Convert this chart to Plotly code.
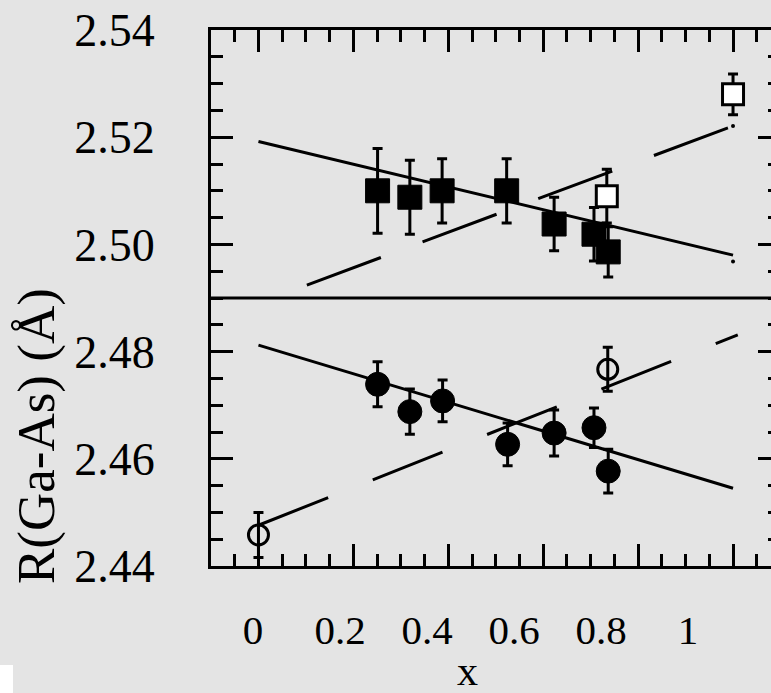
import plotly.graph_objects as go

# ---------------- data ----------------
# upper panel: filled squares
sq_x = [0.251, 0.319, 0.387, 0.523, 0.623, 0.707, 0.737]
sq_y = [2.5100, 2.5088, 2.5100, 2.5100, 2.5038, 2.5019, 2.4986]
sq_err = [0.0079, 0.0069, 0.0060, 0.0060, 0.0050, 0.0050, 0.0047]
# upper panel: open squares
osq_x = [0.734, 1.0]
osq_y = [2.5090, 2.5280]
osq_err = [0.0050, 0.0038]
# lower panel: filled circles
ci_x = [0.251, 0.319, 0.388, 0.525, 0.623, 0.707, 0.737]
ci_y = [2.4739, 2.4688, 2.4708, 2.4627, 2.4648, 2.4658, 2.4577]
ci_err = [0.0042, 0.0042, 0.0039, 0.0040, 0.0043, 0.0037, 0.0041]
# lower panel: open circles
oci_x = [0.0, 0.736]
oci_y = [2.4458, 2.4767]
oci_err = [0.0042, 0.0041]
# straight lines
top_fit_x = [0.0, 1.0]
top_fit_y = [2.5192, 2.4980]
top_dash_x = [0.102, 1.0]
top_dash_y = [2.4924, 2.5221]
bot_fit_x = [0.0, 1.0]
bot_fit_y = [2.4812, 2.4545]
bot_dash_x = [0.0, 1.01]
bot_dash_y = [2.4476, 2.4831]
end_dot_x = [1.0, 1.0]
end_dot_y = [2.4968, 2.5221]
# axes
x_tick_vals = [0, 0.2, 0.4, 0.6, 0.8, 1.0]
x_tick_text = ["0", "0.2", "0.4", "0.6", "0.8", "1"]
y_tick_vals = [2.44, 2.46, 2.48, 2.50, 2.52, 2.54]
y_tick_text = ["2.44", "2.46", "2.48", "2.50", "2.52", "2.54"]
panel_split = 2.49

FONT = "Liberation Serif"
BLACK = "black"
BG = "#e4e4e4"

fig = go.Figure()

def line_trace(x, y, dash=None):
    return go.Scatter(x=x, y=y, mode="lines", showlegend=False, hoverinfo="skip",
                      line=dict(color=BLACK, width=3, dash=dash))

fig.add_trace(line_trace(top_fit_x, top_fit_y))
fig.add_trace(line_trace(top_dash_x, top_dash_y, "79px,44.5px"))
fig.add_trace(line_trace(bot_fit_x, bot_fit_y))
fig.add_trace(line_trace(bot_dash_x, bot_dash_y, "75px,48px"))
fig.add_trace(go.Scatter(x=end_dot_x, y=end_dot_y, mode="markers", showlegend=False,
                         marker=dict(color=BLACK, size=4)))

def err(arr):
    return dict(type="data", array=arr, visible=True, color=BLACK, thickness=3, width=5)

fig.add_trace(go.Scatter(x=sq_x, y=sq_y, mode="markers", showlegend=False, error_y=err(sq_err),
                         marker=dict(symbol="square", size=24, color=BLACK,
                                     line=dict(color=BLACK, width=1))))
fig.add_trace(go.Scatter(x=osq_x, y=osq_y, mode="markers", showlegend=False, error_y=err(osq_err),
                         marker=dict(symbol="square", size=21, color="white",
                                     line=dict(color=BLACK, width=3))))
fig.add_trace(go.Scatter(x=ci_x, y=ci_y, mode="markers", showlegend=False, error_y=err(ci_err),
                         marker=dict(symbol="circle", size=24, color=BLACK,
                                     line=dict(color=BLACK, width=1))))
fig.add_trace(go.Scatter(x=oci_x, y=oci_y, mode="markers", showlegend=False, error_y=err(oci_err),
                         marker=dict(symbol="circle-open", size=20, color=BLACK,
                                     line=dict(color=BLACK, width=3))))

fig.update_layout(
    width=771, height=693,
    margin=dict(l=211, r=0, t=30, b=127, autoexpand=False),
    paper_bgcolor=BG, plot_bgcolor="rgba(0,0,0,0)",
    font=dict(family=FONT, color=BLACK),
    xaxis=dict(range=[-0.1, 1.08], showgrid=False, zeroline=False,
               showline=True, linecolor=BLACK, linewidth=3, mirror="ticks",
               ticks="inside", tick0=0, dtick=0.2, ticklen=22, tickwidth=3, tickcolor=BLACK,
               minor=dict(ticks="inside", dtick=0.05, tick0=0, ticklen=12, tickwidth=3,
                          tickcolor=BLACK, showgrid=False),
               showticklabels=False),
    xaxis2=dict(overlaying="x", anchor="y", side="bottom",
                range=[-0.09655, 1.1908], showgrid=False, zeroline=False, showline=False,
                ticks="", tickmode="array", tickvals=x_tick_vals, ticktext=x_tick_text,
                tickfont=dict(family=FONT, size=41, color=BLACK), ticklabelstandoff=36),
    yaxis=dict(range=[2.44, 2.54], showgrid=False, zeroline=False,
               showline=True, linecolor=BLACK, linewidth=3, mirror=False,
               ticks="inside", tick0=2.44, dtick=0.02, ticklen=22, tickwidth=3, tickcolor=BLACK,
               minor=dict(ticks="inside", dtick=0.005, tick0=2.44, ticklen=12, tickwidth=3,
                          tickcolor=BLACK, showgrid=False),
               tickmode="array", tickvals=y_tick_vals, ticktext=y_tick_text,
               tickfont=dict(family=FONT, size=46, color=BLACK), ticklabelstandoff=44),
    yaxis2=dict(overlaying="y", anchor="x", side="right",
                range=[2.44, 2.54], showgrid=False, zeroline=False, showline=False,
                ticks="inside", tick0=2.44, dtick=0.02, ticklen=13, tickwidth=3, tickcolor=BLACK,
                minor=dict(ticks="inside", dtick=0.005, tick0=2.44, ticklen=3, tickwidth=3,
                           tickcolor=BLACK, showgrid=False),
                showticklabels=False),
)

# invisible anchors so the extra axes are drawn
fig.add_trace(go.Scatter(x=[0], y=[2.5], xaxis="x2", yaxis="y2", mode="markers",
                         marker=dict(opacity=0), showlegend=False, hoverinfo="skip"))

# divider between the two panels
fig.add_shape(type="line", xref="paper", yref="y", x0=0, x1=1, y0=panel_split, y1=panel_split,
              line=dict(color=BLACK, width=3))
# white patch at bottom-left corner
fig.add_shape(type="rect", xref="paper", yref="paper", x0=-0.3768, x1=-0.3536, y0=-0.2369, y1=-0.1847,
              fillcolor="white", line=dict(width=0), layer="below")

fig.add_annotation(text="x", xref="paper", yref="paper", x=0.4589, y=-0.1950,
                   xanchor="center", yanchor="middle", showarrow=False,
                   font=dict(family=FONT, size=42, color=BLACK))
fig.add_annotation(text="R(Ga-As) (Å)", xref="paper", yref="paper", x=-0.3125, y=0.2425,
                   xanchor="center", yanchor="middle", textangle=-90, showarrow=False,
                   font=dict(family=FONT, size=53, color=BLACK))

fig.write_html(
    "out.html",
    config={"displayModeBar": False},
    post_script="document.body.style.margin='0';document.body.style.padding='0';"
                "document.body.style.overflow='hidden';",
)
